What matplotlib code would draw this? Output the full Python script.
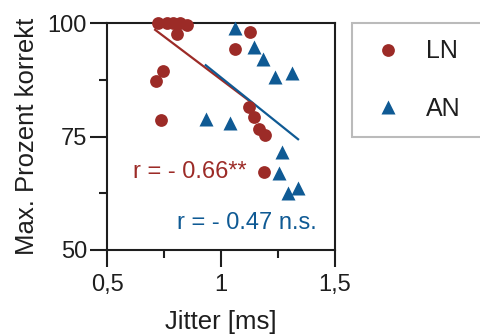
import matplotlib
matplotlib.use("Agg")
import matplotlib.pyplot as plt
from matplotlib.ticker import FixedLocator

plt.rcParams['font.family'] = ['Liberation Sans', 'DejaVu Sans']

# Jitter [ms] vs. max. percent correct, two groups
ln_jitter = [0.724, 0.763, 0.789, 0.820, 0.851, 0.807, 1.127, 1.061, 0.746,
             0.715, 0.737, 1.123, 1.145, 1.167, 1.193, 1.189]
ln_correct = [100.0, 100.0, 100.0, 100.0, 99.6, 97.6, 98.0, 94.3, 89.4,
              87.2, 78.6, 81.5, 79.3, 76.7, 75.3, 67.2]

an_jitter = [1.061, 1.145, 1.184, 1.237, 1.311, 0.934, 1.039, 1.268, 1.254,
             1.294, 1.338]
an_correct = [98.9, 94.7, 92.1, 88.1, 89.0, 78.9, 78.0, 71.6, 67.0, 62.6, 63.7]

# Regression line end points
ln_fit_x = [0.711, 1.136]
ln_fit_y = [98.5, 82.4]
an_fit_x = [0.933, 1.338]
an_fit_y = [90.7, 74.4]

x_ticks = [0.5, 1.0, 1.5]
x_tick_labels = ["0,5", "1", "1,5"]
x_minor = [0.75, 1.25]
y_ticks = [50, 75, 100]
y_minor = [62.5, 87.5]

RED = "#9c2b27"
BLUE = "#0f5a94"
INK = "#1e1e1e"

fig = plt.figure(figsize=(4.81, 3.34), dpi=100)
ax = fig.add_axes([107 / 481, 1 - 250 / 334, 228 / 481, 227 / 334])

ax.plot(ln_fit_x, ln_fit_y, color=RED, lw=1.6, zorder=2)
ax.plot(an_fit_x, an_fit_y, color=BLUE, lw=1.6, zorder=2)

ax.plot(ln_jitter, ln_correct, 'o', color=RED, ms=9.2, mec='none',
        label="LN", clip_on=False, zorder=3)
ax.plot(an_jitter, an_correct, '^', color=BLUE, ms=9.8, mec='none',
        label="AN", clip_on=False, zorder=3)

ax.text(0.614, 67.2, "r = - 0.66**", color=RED, fontsize=17,
        ha='left', va='center')
ax.text(0.807, 55.9, "r = - 0.47 n.s.", color=BLUE, fontsize=17,
        ha='left', va='center')

ax.set_xlim(0.5, 1.5)
ax.set_ylim(50, 100)
ax.set_xticks(x_ticks)
ax.set_xticklabels(x_tick_labels)
ax.xaxis.set_minor_locator(FixedLocator(x_minor))
ax.set_yticks(y_ticks)
ax.yaxis.set_minor_locator(FixedLocator(y_minor))

for s in ax.spines.values():
    s.set_linewidth(1.5)
    s.set_color(INK)

ax.tick_params(which='major', length=12, width=1.5, labelsize=17,
               color=INK, labelcolor=INK)
ax.tick_params(axis='x', which='major', pad=5)
ax.tick_params(axis='y', which='major', pad=2.5)
ax.tick_params(which='minor', length=6, width=1.5, color=INK)

ax.set_xlabel("Jitter [ms]", fontsize=18.5, color=INK, labelpad=10)
ax.set_ylabel("Max. Prozent korrekt", fontsize=18.5, color=INK, labelpad=6)

leg = fig.legend(loc='upper left',
                 bbox_to_anchor=(352 / 481, 1 - 135 / 334, 0.35, 112 / 334),
                 bbox_transform=fig.transFigure, mode='expand',
                 fontsize=18, frameon=True, fancybox=False,
                 borderpad=0.65, labelspacing=1.35, handlelength=1.6,
                 handletextpad=0.7, borderaxespad=0, markerscale=1.0,
                 edgecolor='#aaaaaa', labelcolor=INK)
leg.get_frame().set_linewidth(1.5)

fig.savefig("out.png", dpi=100)
